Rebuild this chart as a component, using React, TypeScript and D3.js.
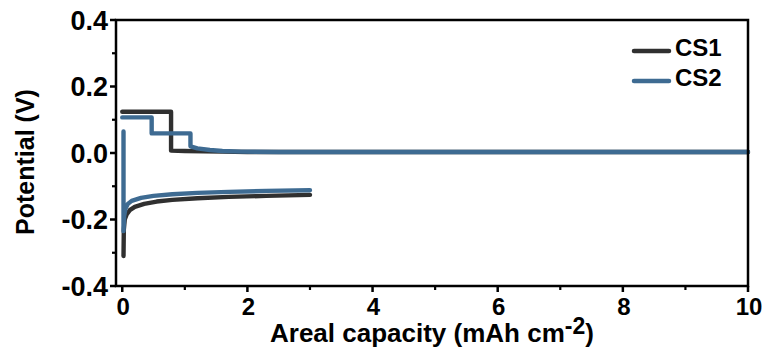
import React from "react";
import * as d3 from "d3";

// Galvanostatic charge/discharge profiles
const cs1ChargeX = [0, 0.78, 0.78, 1.0, 1.3, 1.6, 2.0, 3.0, 10];
const cs1ChargeY = [0.124, 0.124, 0.007, 0.006, 0.005, 0.004, 0.003, 0.003, 0.003];
const cs2ChargeX = [0, 0.47, 0.47, 1.09, 1.09, 1.2, 1.4, 1.6, 1.9, 2.5, 10];
const cs2ChargeY = [0.107, 0.107, 0.059, 0.059, 0.02, 0.014, 0.009, 0.006, 0.004, 0.003, 0.003];
const cs1DischargeX = [0.02, 0.025, 0.04, 0.07, 0.12, 0.2, 0.35, 0.55, 0.8, 1.2, 1.7, 2.3, 3.0];
const cs1DischargeY = [-0.31, -0.23, -0.2, -0.185, -0.172, -0.162, -0.153, -0.146, -0.141, -0.136, -0.132, -0.129, -0.126];
const cs2DischargeX = [0.02, 0.02, 0.03, 0.05, 0.09, 0.15, 0.3, 0.5, 0.8, 1.2, 1.7, 2.3, 3.0];
const cs2DischargeY = [0.065, -0.235, -0.19, -0.168, -0.153, -0.144, -0.135, -0.129, -0.124, -0.12, -0.117, -0.114, -0.112];

const seriesNames = ["CS1", "CS2"];
const seriesColors = ["#303030", "#3e6b92"];
const xTicks = [0, 2, 4, 6, 8, 10];
const xMinor = [1, 3, 5, 7, 9];
const yTicks = [0.4, 0.2, 0.0, -0.2, -0.4];
const yMinor = [0.3, 0.1, -0.1, -0.3];

const W = 769;
const H = 355;
const left = 116;
const right = 748;
const top = 20;
const bottom = 286;

export default function App() {
  const x = d3.scaleLinear().domain([-0.1, 10]).range([left, right]);
  const y = d3.scaleLinear().domain([-0.4, 0.4]).range([bottom, top]);
  const line = d3
    .line<[number, number]>()
    .x((d) => x(d[0]))
    .y((d) => y(d[1]));
  const zip = (xs: number[], ys: number[]) => xs.map((v, i) => [v, ys[i]] as [number, number]);

  const paths = [
    { d: line(zip(cs1ChargeX, cs1ChargeY)), c: seriesColors[0] },
    { d: line(zip(cs1DischargeX, cs1DischargeY)), c: seriesColors[0] },
    { d: line(zip(cs2ChargeX, cs2ChargeY)), c: seriesColors[1] },
    { d: line(zip(cs2DischargeX, cs2DischargeY)), c: seriesColors[1] },
  ];

  const font = "'Liberation Sans', Arial, sans-serif";

  return (
    <svg
      width={W}
      height={H}
      style={{ position: "absolute", left: 0, top: 0, background: "#fff" }}
    >
      <rect x={0} y={0} width={W} height={H} fill="#fff" />
      {paths.map((p, i) => (
        <path
          key={i}
          d={p.d ?? ""}
          fill="none"
          stroke={p.c}
          strokeWidth={4.4}
          strokeLinejoin="round"
          strokeLinecap="round"
        />
      ))}
      {/* frame */}
      <rect x={left} y={top} width={right - left} height={bottom - top} fill="none" stroke="#000" strokeWidth={2.5} />
      {/* x ticks */}
      {xTicks.map((t) => (
        <g key={"xt" + t}>
          <line x1={x(t)} x2={x(t)} y1={bottom} y2={bottom + 6} stroke="#000" strokeWidth={2.5} />
          <text
            x={x(t) + 1}
            y={bottom + 29}
            textAnchor="middle"
            fontFamily={font}
            fontWeight="bold"
            fontSize={24}
          >
            {t}
          </text>
        </g>
      ))}
      {xMinor.map((t) => (
        <line key={"xm" + t} x1={x(t)} x2={x(t)} y1={bottom} y2={bottom + 4} stroke="#000" strokeWidth={2.2} />
      ))}
      {/* y ticks */}
      {yTicks.map((t) => (
        <g key={"yt" + t}>
          <line x1={left - 6} x2={left} y1={y(t)} y2={y(t)} stroke="#000" strokeWidth={2.5} />
          <text
            x={left - 8}
            y={y(t) + 9.5}
            textAnchor="end"
            fontFamily={font}
            fontWeight="bold"
            fontSize={27}
          >
            {d3.format(".1f")(t).replace("−", "-")}
          </text>
        </g>
      ))}
      {yMinor.map((t) => (
        <line key={"ym" + t} x1={left - 4} x2={left} y1={y(t)} y2={y(t)} stroke="#000" strokeWidth={2.2} />
      ))}
      {/* axis titles */}
      <text x={270} y={342} fontFamily={font} fontWeight="bold" fontSize={26}>
        Areal capacity (mAh cm
        <tspan dy={-8} fontSize={23}>-2</tspan>
        <tspan dy={8}>)</tspan>
      </text>
      <text
        transform={`translate(34, 162) rotate(-90)`}
        textAnchor="middle"
        fontFamily={font}
        fontWeight="bold"
        fontSize={25}
      >
        Potential (V)
      </text>
      {/* legend */}
      {seriesNames.map((n, i) => (
        <g key={n}>
          <line
            x1={634}
            x2={669}
            y1={51 + i * 30}
            y2={51 + i * 30}
            stroke={seriesColors[i]}
            strokeWidth={4.5}
            strokeLinecap="round"
          />
          <text x={675} y={56 + i * 30} fontFamily={font} fontWeight="bold" fontSize={24}>
            {n}
          </text>
        </g>
      ))}
    </svg>
  );
}
